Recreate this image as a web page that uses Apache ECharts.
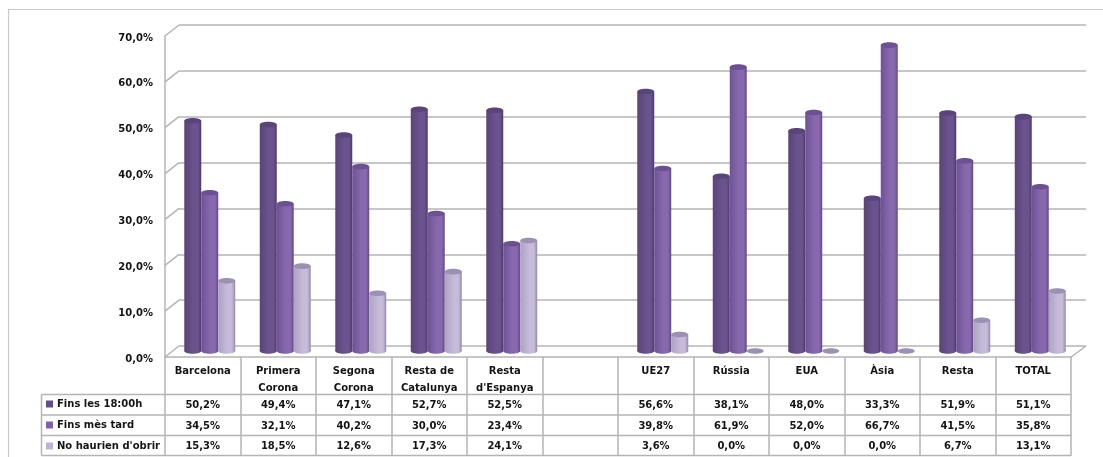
<!DOCTYPE html>
<html><head><meta charset="utf-8">
<style>html,body{margin:0;padding:0;background:#fff}#c{width:1103px;height:457px}</style>
<script src="https://cdn.jsdelivr.net/npm/echarts@6/dist/echarts.min.js"></script>
</head><body><div id="c"></div>
<script>
const categories = ['Barcelona','Primera\nCorona','Segona\nCorona','Resta de\nCatalunya','Resta\nd\'Espanya','','UE27','Rússia','EUA','Àsia','Resta','TOTAL'];
const seriesNames = ['Fins les 18:00h','Fins mès tard',"No haurien d'obrir"];
const finsLes18 = [50.2,49.4,47.1,52.7,52.5,null,56.6,38.1,48.0,33.3,51.9,51.1];
const finsMesTard = [34.5,32.1,40.2,30.0,23.4,null,39.8,61.9,52.0,66.7,41.5,35.8];
const noHaurien = [15.3,18.5,12.6,17.3,24.1,null,3.6,0.0,0.0,0.0,6.7,13.1];
const tickValues = [0,10,20,30,40,50,60,70];

const FONT = '"DejaVu Sans", Verdana, sans-serif';
const LINE = '#b4b4b4';
const INK = '#141414';
const fmt = v => v.toFixed(1).replace('.', ',') + '%';
const looks = [
  {left:'#594476', mid:'#6b5390', right:'#4f3b6b', cap:'#5a4579', swatch:'#644c84'},
  {left:'#6f5295', mid:'#8869ae', right:'#624a89', cap:'#6c5192', swatch:'#8060a6'},
  {left:'#aea2c4', mid:'#c6bbd9', right:'#958aac', cap:'#9d91b3', swatch:'#bfb3d3'}
];
const rowY = [405.5, 426, 446.5];
const DEPTH_X = 7;

function barSeries(name, values, idx){
  const look = looks[idx];
  return {
    name, type:'custom', xAxisIndex:2, yAxisIndex:2, coordinateSystem:'cartesian2d',
    itemStyle:{color:look.swatch}, clip:false, z:5+idx,
    encode:{x:0,y:1},
    data: values.map((v,i)=>[i,v]),
    renderItem(params, api){
      const v = api.value(1);
      if (v == null || isNaN(v)) return null;
      const band = api.size([1,0])[0];
      const w = band * 0.225;
      const top = api.coord([api.value(0), v]);
      const base = api.coord([api.value(0), 0]);
      const cx = top[0] + (idx-1)*w;
      const ry = 2.8;
      const fill = {type:'linear',x:0,y:0,x2:1,y2:0,colorStops:[
        {offset:0,color:look.left},{offset:0.55,color:look.mid},{offset:0.8,color:look.mid},{offset:1,color:look.right}]};
      const kids = [];
      kids.push({type:'ellipse',shape:{cx,cy:base[1],rx:w/2,ry},style:{fill: v===0?look.cap:fill}});
      if (v > 0){
        kids.push({type:'rect',shape:{x:cx-w/2,y:top[1],width:w,height:base[1]-top[1]},style:{fill}});
        kids.push({type:'ellipse',shape:{cx,cy:top[1],rx:w/2,ry},style:{fill:look.cap}});
      }
      kids.push({type:'text',style:{x:top[0]-DEPTH_X,y:rowY[idx],text:fmt(v),
        font:'bold 10px '+FONT,fill:INK,align:'center',verticalAlign:'middle'}});
      return {type:'group',children:kids};
    }
  };
}

const option = {
  animation:false,
  backgroundColor:'#fff',
  grid:[
    {left:179,top:25,width:907,height:321},
    {left:165,top:36,width:906,height:321},
    {left:172,top:30,width:906,height:321},
    {left:165,top:38,width:906,height:321}
  ],
  xAxis:[
    {gridIndex:0,type:'category',data:categories,show:false},
    {gridIndex:1,type:'category',data:categories,
      axisLine:{show:true,lineStyle:{color:LINE,width:1.5}},
      axisTick:{show:true,interval:0,length:99,lineStyle:{color:LINE,width:1.5}},
      axisLabel:{interval:0,margin:6,fontFamily:FONT,fontWeight:'bold',fontSize:10,lineHeight:17,color:INK,verticalAlign:'top'},
      splitLine:{show:false}},
    {gridIndex:2,type:'category',data:categories,show:false},
    {gridIndex:3,type:'category',data:categories,show:false}
  ],
  yAxis:[
    {gridIndex:0,type:'value',min:0,max:70,interval:10,
      axisLine:{show:false},axisTick:{show:false},axisLabel:{show:false},
      splitLine:{show:true,lineStyle:{color:LINE,width:1.5}}},
    {gridIndex:1,type:'value',min:0,max:70,interval:10,
      axisLine:{show:true,lineStyle:{color:LINE,width:1.5}},axisTick:{show:false},
      axisLabel:{show:false},splitLine:{show:false}},
    {gridIndex:2,type:'value',min:0,max:70,interval:10,show:false,splitLine:{show:false}},
    {gridIndex:3,type:'value',min:0,max:70,interval:10,
      axisLine:{show:false},axisTick:{show:false},splitLine:{show:false},
      axisLabel:{margin:12,fontFamily:FONT,fontWeight:'bold',fontSize:10,color:INK,formatter:v=>fmt(v)}}
  ],
  legend:{
    left:46,top:399,padding:0,orient:'vertical',itemWidth:7,itemHeight:7,itemGap:11,icon:'rect',
    data:seriesNames,selectedMode:false,
    textStyle:{fontFamily:FONT,fontWeight:'bold',fontSize:10,color:INK,padding:[0,0,0,-1]}
  },
  series:[
    {
      type:'custom',name:'wall',xAxisIndex:0,yAxisIndex:0,z:1,clip:false,silent:true,
      encode:{x:0,y:1},
      data:tickValues.map(v=>[0,v]),
      renderItem(params,api){
        const p = api.coord([0,api.value(1)]);
        const x0 = p[0]-api.size([1,0])[0]/2;
        return {type:'line',shape:{x1:x0,y1:p[1],x2:x0-14,y2:p[1]+11},style:{stroke:LINE,lineWidth:1.5}};
      }
    },
    {
      type:'custom',name:'floor',xAxisIndex:0,yAxisIndex:0,z:1,clip:false,silent:true,
      encode:{x:0,y:1},
      data:[[categories.length-1,0]],
      renderItem(params,api){
        const p = api.coord([api.value(0),0]);
        const x0 = p[0]+api.size([1,0])[0]/2;
        return {type:'line',shape:{x1:x0,y1:p[1],x2:x0-15,y2:p[1]+11},style:{stroke:LINE,lineWidth:1.5}};
      }
    },
    barSeries(seriesNames[0],finsLes18,0),
    barSeries(seriesNames[1],finsMesTard,1),
    barSeries(seriesNames[2],noHaurien,2)
  ],
  graphic:[
    {type:'polyline',silent:true,z:0,shape:{points:[[8.5,457],[8.5,9.5],[1103,9.5]]},style:{fill:'none',stroke:'#c8c8c8',lineWidth:1.2}},
    {type:'line',silent:true,z:0,shape:{x1:41.5,y1:394.5,x2:41.5,y2:455.5},style:{stroke:LINE,lineWidth:1.5}},
    {type:'line',silent:true,z:0,shape:{x1:41.5,y1:394.5,x2:1071,y2:394.5},style:{stroke:LINE,lineWidth:1.5}},
    {type:'line',silent:true,z:0,shape:{x1:41.5,y1:415,x2:1071,y2:415},style:{stroke:LINE,lineWidth:1.5}},
    {type:'line',silent:true,z:0,shape:{x1:41.5,y1:435.5,x2:1071,y2:435.5},style:{stroke:LINE,lineWidth:1.5}},
    {type:'line',silent:true,z:0,shape:{x1:41.5,y1:455.5,x2:1071,y2:455.5},style:{stroke:LINE,lineWidth:1.5}}
  ]
};
echarts.init(document.getElementById('c')).setOption(option);
</script></body></html>
